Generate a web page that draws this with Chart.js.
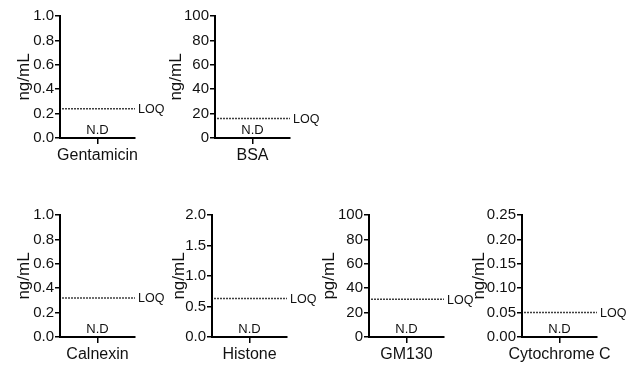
<!DOCTYPE html>
<html>
<head>
<meta charset="utf-8">
<script src="https://cdn.jsdelivr.net/npm/chart.js@4"></script>
<style>
  html, body { margin: 0; padding: 0; background: #fff; overflow: hidden; }
  #wrap { position: relative; width: 634px; height: 372px; }
  canvas { position: absolute; }
</style>
</head>
<body>
<div id="wrap"></div>
<script>
// one small panel per protein
const categories = ['Gentamicin', 'BSA', 'Calnexin', 'Histone', 'GM130', 'Cytochrome C'];
const units = ['ng/mL', 'ng/mL', 'ng/mL', 'ng/mL', 'pg/mL', 'ng/mL'];
const measured = [0, 0, 0, 0, 0, 0]; // nothing detected
const valueLabels = ['N.D', 'N.D', 'N.D', 'N.D', 'N.D', 'N.D'];
const loqValues = [0.24, 16, 0.32, 0.63, 31, 0.05];
const yMax = [1, 100, 1, 2, 100, 0.25];
const yStep = [0.2, 20, 0.2, 0.5, 20, 0.05];
const yDecimals = [1, 0, 1, 1, 0, 2];

// canvas placement (left, top) and y-title offset
const panelPos = [[0, 0], [155, 0], [0, 199], [152, 199], [309, 199], [462, 199]];
const titleOffset = [14, 11, 14, 17, 10, 7];

const FONT = "'Liberation Sans', Arial, sans-serif";
const INK = '#111';

function makeChart(i) {
  const canvas = document.createElement('canvas');
  canvas.width = 175;
  canvas.height = 170;
  canvas.style.left = panelPos[i][0] + 'px';
  canvas.style.top = panelPos[i][1] + 'px';
  document.getElementById('wrap').appendChild(canvas);

  const marks = {
    id: 'marks',
    afterDatasetsDraw(chart) {
      const { ctx, chartArea, scales } = chart;
      ctx.save();
      ctx.fillStyle = INK;
      ctx.font = '12.5px ' + FONT;
      ctx.textAlign = 'left';
      ctx.textBaseline = 'middle';
      ctx.fillText('LOQ', chartArea.right + 3, scales.y.getPixelForValue(loqValues[i]) + 1);
      ctx.font = '13px ' + FONT;
      ctx.textAlign = 'center';
      ctx.textBaseline = 'bottom';
      ctx.fillText(valueLabels[i], scales.x.getPixelForValue(0), scales.y.getPixelForValue(measured[i]) - 1);
      ctx.restore();
    }
  };

  return new Chart(canvas, {
    type: 'bar',
    data: {
      labels: [categories[i]],
      datasets: [
        { data: [measured[i]], backgroundColor: '#000', barPercentage: 0.5 },
        {
          type: 'line', xAxisID: 'x2',
          data: [{ x: 0.03, y: loqValues[i] }, { x: 1, y: loqValues[i] }],
          borderColor: '#000', borderWidth: 1.5, borderDash: [1.5, 1.5],
          pointRadius: 0, fill: false
        }
      ]
    },
    options: {
      responsive: false,
      animation: false,
      devicePixelRatio: 1,
      layout: { padding: { top: 16, right: 40, left: 0, bottom: 0 } },
      plugins: { legend: { display: false }, tooltip: { enabled: false } },
      scales: {
        x: {
          grid: { display: true, drawOnChartArea: false, offset: false, tickLength: 6, color: '#000', lineWidth: 1.5 },
          border: { color: '#000', width: 2 },
          ticks: { color: INK, font: { family: FONT, size: 16 }, padding: 2, maxRotation: 0 },
          afterFit: s => { s.height = 32; }
        },
        x2: { type: 'linear', min: 0, max: 1, offset: false, display: false },
        y: {
          min: 0, max: yMax[i],
          grid: { display: true, drawOnChartArea: false, tickLength: 5, color: '#000', lineWidth: 1.5 },
          border: { color: '#000', width: 2 },
          ticks: {
            stepSize: yStep[i], color: INK, padding: 1,
            font: { family: FONT, size: 15 },
            callback: v => Number(v).toFixed(yDecimals[i])
          },
          title: { display: true, text: units[i], color: INK, font: { family: FONT, size: 17 }, padding: { top: titleOffset[i], bottom: 0 } },
          afterFit: s => { s.width = 60; }
        }
      }
    },
    plugins: [marks]
  });
}

categories.forEach((c, i) => makeChart(i));
</script>
</body>
</html>
